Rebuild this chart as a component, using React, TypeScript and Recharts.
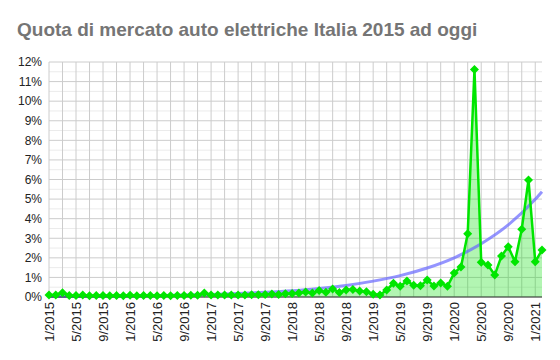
import { ComposedChart, Area, Line, XAxis, YAxis, CartesianGrid } from "recharts"

document.body.style.margin = "0"

const START_YEAR = 2015

// quota mensile auto elettriche (%), 1/2015 .. 2/2021
const share = [
  0.1, 0.1, 0.22, 0.08, 0.08, 0.1, 0.07, 0.08, 0.08, 0.07, 0.08, 0.07,
  0.09, 0.07, 0.08, 0.08, 0.07, 0.08, 0.07, 0.08, 0.08, 0.09, 0.09, 0.2,
  0.1, 0.1, 0.1, 0.1, 0.1, 0.1, 0.12, 0.12, 0.13, 0.15, 0.13, 0.16,
  0.18, 0.2, 0.25, 0.2, 0.33, 0.24, 0.41, 0.23, 0.36, 0.38, 0.31, 0.27,
  0.14, 0.1, 0.36, 0.7, 0.55, 0.82, 0.6, 0.57, 0.87, 0.56, 0.72, 0.55,
  1.22, 1.53, 3.23, 11.62, 1.77, 1.63, 1.12, 2.09, 2.57, 1.8, 3.46, 5.98,
  1.8, 2.4,
]

// linea di tendenza letta ogni 4 mesi (null = nessun punto letto)
const trend: (number | null)[] = [
  0.02, null, null, null, 0.03, null, null, null, 0.04, null, null, null,
  0.05, null, null, null, 0.07, null, null, null, 0.1, null, null, null,
  0.13, null, null, null, 0.18, null, null, null, 0.24, null, null, null,
  0.32, null, null, null, 0.44, null, null, null, 0.59, null, null, null,
  0.81, null, null, null, 1.09, null, null, null, 1.48, null, null, null,
  2.0, null, null, null, 2.72, null, null, null, 3.68, null, null, null,
  4.99, 5.38,
]

const xTicks = [
  "1/2015", "5/2015", "9/2015", "1/2016", "5/2016", "9/2016", "1/2017",
  "5/2017", "9/2017", "1/2018", "5/2018", "9/2018", "1/2019", "5/2019",
  "9/2019", "1/2020", "5/2020", "9/2020", "1/2021",
]

const yTicks = [0, 1, 2, 3, 4, 5, 6, 7, 8, 9, 10, 11, 12]
const yMinor = [0.5, 1.5, 2.5, 3.5, 4.5, 5.5, 6.5, 7.5, 8.5, 9.5, 10.5, 11.5]

const months = share.map((_, i) => `${(i % 12) + 1}/${START_YEAR + Math.floor(i / 12)}`)
const data = share.map((v, i) => ({ month: months[i], share: v, trend: trend[i] }))
const vGrid = months.filter((_, i) => i % 2 === 0)

const FONT = "'Liberation Sans', Arial, sans-serif"

const Diamond = (props: any) => {
  const { cx, cy } = props
  if (cx == null || cy == null) return null
  const r = 4.5
  return (
    <polygon
      points={`${cx},${cy - r} ${cx + r},${cy} ${cx},${cy + r} ${cx - r},${cy}`}
      fill="#00e600"
    />
  )
}

const XTick = (props: any) => {
  const { x, y, payload } = props
  return (
    <text
      x={x}
      y={y}
      transform={`rotate(-90 ${x} ${y})`}
      textAnchor="end"
      dy="0.35em"
      fontSize={13}
      fontFamily={FONT}
      fill="#222"
    >
      {payload.value}
    </text>
  )
}

export default function App() {
  return (
    <div style={{ position: "relative", width: 560, height: 360, background: "#fff" }}>
      <div
        style={{
          position: "absolute",
          left: 17,
          top: 19,
          fontFamily: FONT,
          fontWeight: "bold",
          fontSize: 19,
          color: "#757575",
          whiteSpace: "nowrap",
        }}
      >
        Quota di mercato auto elettriche Italia 2015 ad oggi
      </div>
      <ComposedChart
        width={560}
        height={360}
        data={data}
        margin={{ top: 62, right: 18, bottom: 0, left: 0 }}
      >
        <CartesianGrid
          horizontal
          vertical={false}
          horizontalValues={yMinor}
          stroke="#ebebeb"
        />
        <CartesianGrid
          horizontalValues={yTicks}
          verticalValues={vGrid}
          stroke="#cccccc"
        />
        <XAxis
          dataKey="month"
          ticks={xTicks}
          interval={0}
          height={63}
          tickSize={0}
          tickMargin={5}
          tick={<XTick />}
          axisLine={{ stroke: "#333", strokeWidth: 1 }}
        />
        <YAxis
          domain={[0, 12]}
          ticks={yTicks}
          interval={0}
          width={49}
          tickSize={0}
          tickMargin={7}
          axisLine={false}
          tickFormatter={(v) => `${v}%`}
          tick={{ fontSize: 12, fontFamily: FONT, fill: "#222" }}
        />
        <Area
          dataKey="share"
          type="linear"
          stroke="none"
          fill="#00dd00"
          fillOpacity={0.3}
          isAnimationActive={false}
        />
        <Line
          dataKey="trend"
          type="monotone"
          connectNulls
          stroke="#6666ff"
          strokeOpacity={0.7}
          strokeWidth={3}
          dot={false}
          isAnimationActive={false}
        />
        <Line
          dataKey="share"
          type="linear"
          stroke="#00e600"
          strokeWidth={2.5}
          dot={<Diamond />}
          activeDot={false}
          isAnimationActive={false}
        />
      </ComposedChart>
    </div>
  )
}
